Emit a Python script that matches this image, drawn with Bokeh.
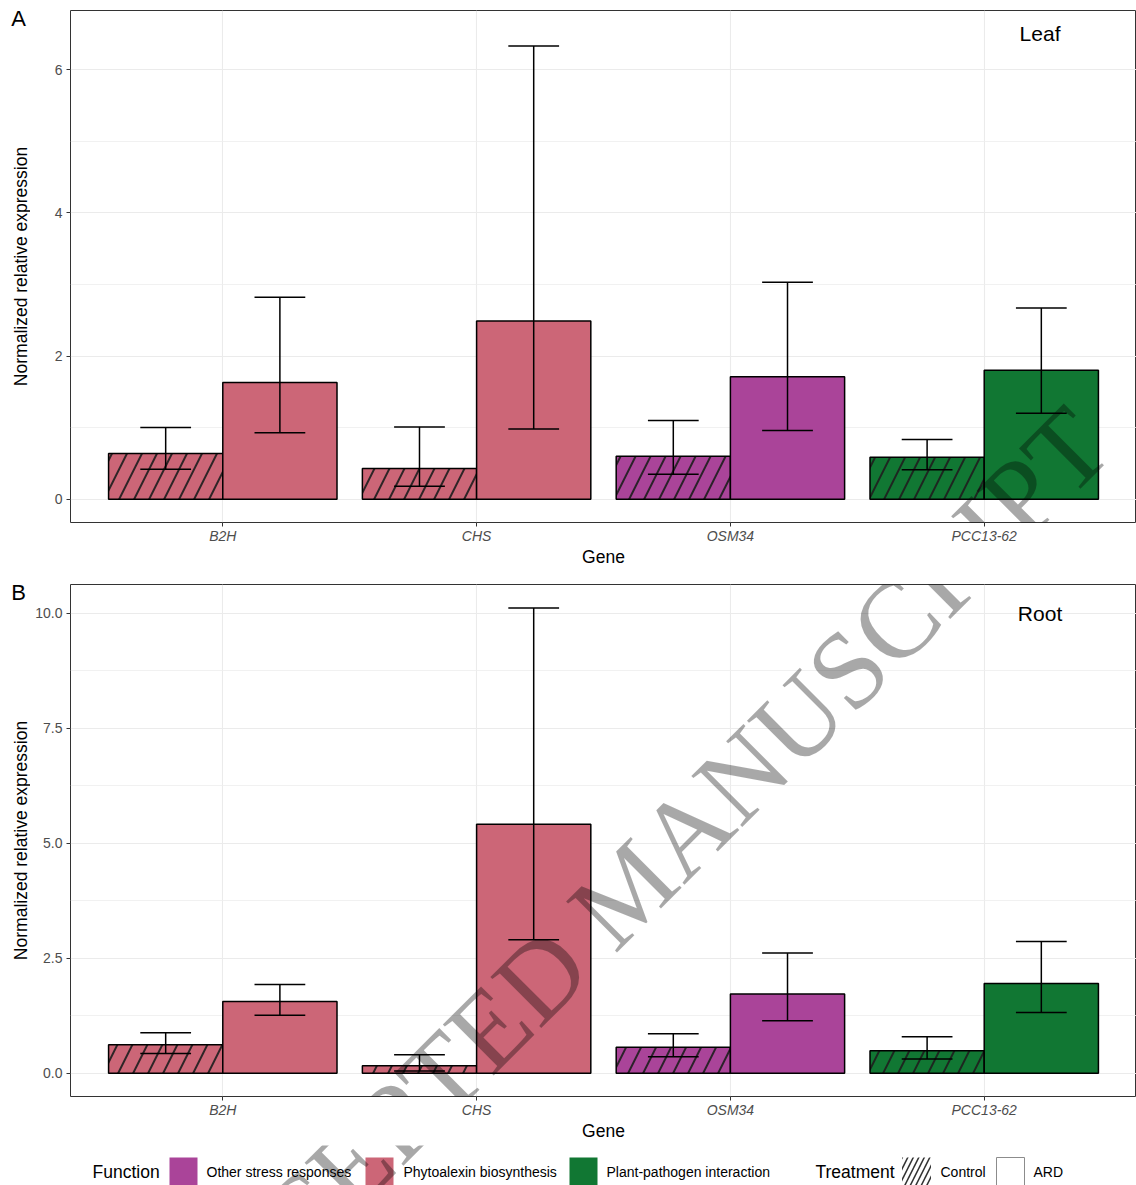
from math import pi
from bokeh.plotting import figure
from bokeh.models import ColumnDataSource, Range1d, FixedTicker, PrintfTickFormatter, Label
from bokeh.layouts import column, row
from bokeh.embed import file_html
from bokeh.resources import INLINE
from bokeh.core.properties import value

# ---------------- data ----------------
genes = ["B2H", "CHS", "OSM34", "PCC13-62"]
gene_function = ["Phytoalexin biosynthesis", "Phytoalexin biosynthesis",
                 "Other stress responses", "Plant-pathogen interaction"]
function_names = ["Other stress responses", "Phytoalexin biosynthesis", "Plant-pathogen interaction"]
function_colors = ["#AA4499", "#CC6677", "#117733"]
treatments = ["Control", "ARD"]

leaf_control_mean = [0.64, 0.43, 0.60, 0.585]
leaf_control_lower = [0.42, 0.18, 0.35, 0.41]
leaf_control_upper = [1.00, 1.01, 1.10, 0.835]
leaf_ard_mean = [1.63, 2.49, 1.71, 1.80]
leaf_ard_lower = [0.93, 0.98, 0.96, 1.20]
leaf_ard_upper = [2.82, 6.33, 3.03, 2.67]

root_control_mean = [0.62, 0.16, 0.565, 0.49]
root_control_lower = [0.43, 0.05, 0.36, 0.31]
root_control_upper = [0.88, 0.40, 0.86, 0.79]
root_ard_mean = [1.56, 5.41, 1.72, 1.95]
root_ard_lower = [1.26, 2.90, 1.14, 1.32]
root_ard_upper = [1.93, 10.11, 2.61, 2.86]

leaf_ticks = [0, 2, 4, 6]
root_ticks = [0.0, 2.5, 5.0, 7.5, 10.0]

y_title = "Normalized relative expression"
x_title = "Gene"

FONT = "Liberation Sans"
color_of = dict(zip(function_names, function_colors))
bar_colors = [color_of[f] for f in gene_function]
xpos = [i + 1 for i in range(len(genes))]
DODGE = 0.225
BAR_W = 0.45
CAP = 0.1

STRIP_W = 30
FRAME_L = 70
FRAME_H = 512

WM_TEXT = "ACCEPTED MANUSCRIPT"
WM_X, WM_Y = 628, 888      # page pixel position of watermark centre
WM_SIZE = "110px"

HATCH = dict(hatch_pattern="/", hatch_color="#1E1E1E", hatch_alpha=0.9)


def watermark(x_range_name="default", y_range_name="default"):
    return Label(x=WM_X, y=WM_Y, x_range_name=x_range_name, y_range_name=y_range_name,
                 text=WM_TEXT, angle=45, angle_units="deg",
                 text_font="Liberation Serif", text_font_size=WM_SIZE,
                 text_color="black", text_alpha=0.34,
                 text_align="center", text_baseline="middle")


def strip(letter, height, b_top, b_bottom, page_top):
    s = figure(width=STRIP_W, height=height,
               x_range=Range1d(0, STRIP_W),
               y_range=Range1d(page_top + FRAME_H, page_top),
               output_backend="svg", toolbar_location=None,
               min_border_left=0, min_border_right=0,
               min_border_top=b_top, min_border_bottom=b_bottom,
               x_axis_location=None, y_axis_location=None,
               outline_line_color=None, background_fill_color="white",
               border_fill_color="white")
    s.grid.visible = False
    if letter:
        s.text(x=[18], y=[page_top + 8], text=[letter], text_font=value(FONT),
               text_font_size="22px", text_color="black",
               text_align="center", text_baseline="middle")
        s.text(x=[20], y=[page_top + FRAME_H / 2], text=[y_title], angle=pi / 2,
               text_font=value(FONT), text_font_size="17.5px", text_color="black",
               text_align="center", text_baseline="middle")
    return s


def panel(tissue, cm, cl, cu, am, al, au, ylo, yhi, ticks, fmt,
          height, b_top, b_bottom, page_top, tissue_y):
    p = figure(width=1136 - STRIP_W, height=height,
               x_range=Range1d(0.4, 4.6), y_range=Range1d(ylo, yhi),
               output_backend="svg", toolbar_location=None,
               min_border_left=FRAME_L - STRIP_W, min_border_right=0,
               min_border_top=b_top, min_border_bottom=b_bottom,
               background_fill_color="white", border_fill_color="white",
               outline_line_color="#333333", outline_line_width=1)
    p.extra_x_ranges = {"px": Range1d(FRAME_L, 1136)}
    p.extra_y_ranges = {"px": Range1d(page_top + FRAME_H, page_top)}

    step = ticks[1] - ticks[0]
    minor = [t + step / 2 for t in ticks] + [ticks[0] - step / 2]
    p.yaxis.ticker = FixedTicker(ticks=ticks, minor_ticks=minor)
    p.yaxis.formatter = PrintfTickFormatter(format=fmt)
    p.xaxis.ticker = FixedTicker(ticks=xpos)
    p.xaxis.major_label_overrides = {x: g for x, g in zip(xpos, genes)}

    p.grid.grid_line_color = "#EBEBEB"
    p.grid.grid_line_width = 1.1
    p.ygrid.minor_grid_line_color = "#EDEDED"
    p.ygrid.minor_grid_line_width = 0.8

    for ax in (p.xaxis, p.yaxis):
        ax.axis_line_color = None
        ax.major_tick_line_color = "#333333"
        ax.major_tick_in = 0
        ax.major_tick_out = 4
        ax.minor_tick_line_color = None
        ax.major_label_text_color = "#4D4D4D"
        ax.major_label_text_font = FONT
        ax.major_label_text_font_size = "14px"
        ax.major_label_standoff = 4
        ax.axis_label_text_font = FONT
        ax.axis_label_text_font_size = "17.5px"
        ax.axis_label_text_font_style = "normal"
        ax.axis_label_text_color = "black"
    p.xaxis.major_label_text_font_style = "italic"
    p.xaxis.major_label_standoff = 1
    p.xaxis.axis_label = x_title
    p.xaxis.axis_label_standoff = 0

    ctrl = ColumnDataSource(dict(
        x=[x - DODGE for x in xpos], top=cm, lo=cl, hi=cu, color=bar_colors,
        c0=[x - DODGE - CAP for x in xpos], c1=[x - DODGE + CAP for x in xpos]))
    ard = ColumnDataSource(dict(
        x=[x + DODGE for x in xpos], top=am, lo=al, hi=au, color=bar_colors,
        c0=[x + DODGE - CAP for x in xpos], c1=[x + DODGE + CAP for x in xpos]))

    p.vbar(x="x", top="top", bottom=0, width=BAR_W, source=ctrl,
           fill_color="color", line_color="black", line_width=1.5,
           hatch_scale=30, hatch_weight=2.0, **HATCH)
    p.vbar(x="x", top="top", bottom=0, width=BAR_W, source=ard,
           fill_color="color", line_color="black", line_width=1.5)

    for src in (ctrl, ard):
        p.segment(x0="x", y0="lo", x1="x", y1="hi", source=src,
                  line_color="black", line_width=1.5)
        p.segment(x0="c0", y0="hi", x1="c1", y1="hi", source=src,
                  line_color="black", line_width=1.5)
        p.segment(x0="c0", y0="lo", x1="c1", y1="lo", source=src,
                  line_color="black", line_width=1.5)

    p.add_layout(Label(x=4.22, y=tissue_y, text=tissue, text_font=FONT,
                       text_font_size="21px", text_color="black",
                       text_align="center", text_baseline="middle"))
    p.add_layout(watermark("px", "px"))
    return p


A_H, A_TOP, A_BOT = 572, 10, 50
B_H, B_TOP, B_BOT = 573, 12, 49

pA = panel("Leaf", leaf_control_mean, leaf_control_lower, leaf_control_upper,
           leaf_ard_mean, leaf_ard_lower, leaf_ard_upper,
           -0.325, 6.825, leaf_ticks, "%d",
           height=A_H, b_top=A_TOP, b_bottom=A_BOT, page_top=10, tissue_y=6.5)
pB = panel("Root", root_control_mean, root_control_lower, root_control_upper,
           root_ard_mean, root_ard_lower, root_ard_upper,
           -0.506, 10.62, root_ticks, "%.1f",
           height=B_H, b_top=B_TOP, b_bottom=B_BOT, page_top=584, tissue_y=10.0)
sA = strip("A", A_H, A_TOP, A_BOT, 10)
sB = strip("B", B_H, B_TOP, B_BOT, 584)

# ---------------- legend strip ----------------
LG_H = 40
sL = figure(width=STRIP_W, height=LG_H, x_range=Range1d(0, 1), y_range=Range1d(0, 1),
            output_backend="svg", toolbar_location=None, min_border=0,
            x_axis_location=None, y_axis_location=None, outline_line_color=None,
            background_fill_color="white", border_fill_color="white")
sL.grid.visible = False
lg = figure(width=1136 - STRIP_W, height=LG_H,
            x_range=Range1d(FRAME_L, 1136), y_range=Range1d(1185, 1145),
            output_backend="svg", toolbar_location=None,
            min_border_left=FRAME_L - STRIP_W, min_border_right=0,
            min_border_top=0, min_border_bottom=0,
            x_axis_location=None, y_axis_location=None,
            outline_line_color=None, background_fill_color="white",
            border_fill_color="white")
lg.grid.visible = False

key_y = 1171
fn_key_x = [183, 379, 583]
fn_text_x = [206, 403, 606]
lg.rect(x=fn_key_x, y=key_y, width=28, height=28, fill_color=function_colors,
        line_color=None)
lg.text(x=fn_text_x, y=key_y, text=function_names, text_font=value(FONT),
        text_font_size="14px", text_color="black", text_baseline="middle",
        text_align="left")
lg.text(x=[92, 815], y=key_y, text=["Function", "Treatment"], text_font=value(FONT),
        text_font_size="17.5px", text_color="black", text_baseline="middle",
        text_align="left")
lg.rect(x=[916], y=key_y, width=29, height=28, fill_color="white", line_color=None,
        hatch_scale=11, hatch_weight=1.6, **HATCH)
lg.rect(x=[1010], y=key_y, width=28, height=28, fill_color="white",
        line_color="#8C8C8C", line_width=1)
lg.text(x=[940, 1033], y=key_y, text=treatments, text_font=value(FONT),
        text_font_size="14px", text_color="black", text_baseline="middle",
        text_align="left")
lg.add_layout(watermark())

layout = column(row(sA, pA), row(sB, pB), row(sL, lg))
open("out.html", "w").write(file_html(layout, INLINE))
